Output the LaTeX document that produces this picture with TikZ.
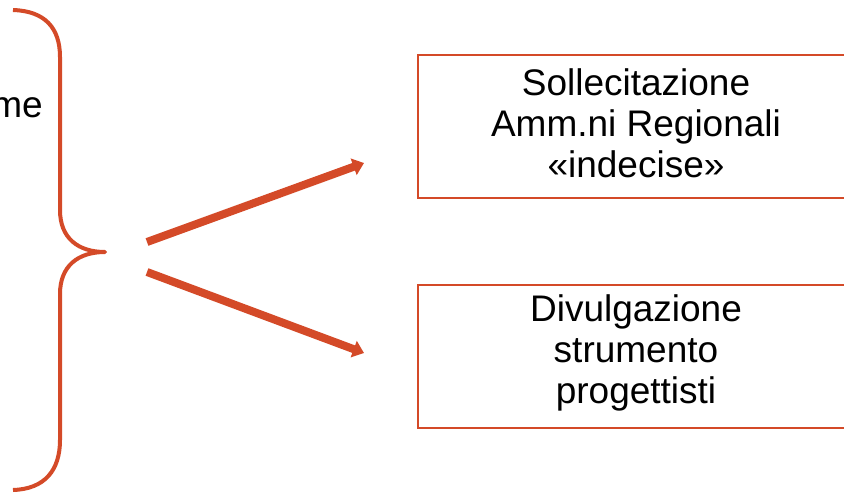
\documentclass[tikz,border=0pt]{standalone}
\usepackage{fontspec}
\setmainfont{Liberation Sans}
\usetikzlibrary{arrows.meta}
\definecolor{accent}{HTML}{D44A28}
\begin{document}
\begin{tikzpicture}[x=1pt,y=-1pt,
  bracestyle/.style={draw=accent,line width=4pt,line join=round},
  boxstyle/.style={draw=accent,line width=2pt,minimum width=460pt,minimum height=143pt,inner sep=0pt},
  lbl/.style={font=\fontsize{37}{41}\selectfont,align=center,inner sep=0pt,text=black},
  bigarrow/.style={draw=accent,line width=8pt,-{Triangle[length=11pt,width=17pt]}}]
\useasboundingbox (0,0) rectangle (844,493);
\begin{scope}
\clip (0,0) rectangle (844,493);
% brace
\coordinate (btop) at (13,10);
\coordinate (btip) at (105,252);
\coordinate (bbot) at (13,490);
\draw[bracestyle] (btop) .. controls (45,11) and (60,28) .. (60,57) -- (60,210)
  .. controls (60,238) and (78,252) .. (btip)
  .. controls (78,252) and (60,266) .. (60,294) -- (60,440)
  .. controls (60,470) and (45,489) .. (bbot);
\node[lbl,anchor=base east] (me) at (43,117) {me};
% boxes
\node[boxstyle,anchor=north west] (box1) at (417,54) {};
\node[boxstyle,anchor=north west] (box2) at (417,284) {};
\node[lbl] (t1) at (636,123) {Sollecitazione\\Amm.ni Regionali\\«indecise»};
\node[lbl] (t2) at (636,353) {Divulgazione\\strumento\\progettisti};
% arrows
\coordinate (a1s) at (147,242);
\coordinate (a1e) at (364,163);
\coordinate (a2s) at (147,272);
\coordinate (a2e) at (364,353);
\draw[bigarrow] (a1s) -- (a1e);
\draw[bigarrow] (a2s) -- (a2e);
\end{scope}
\end{tikzpicture}
\end{document}
